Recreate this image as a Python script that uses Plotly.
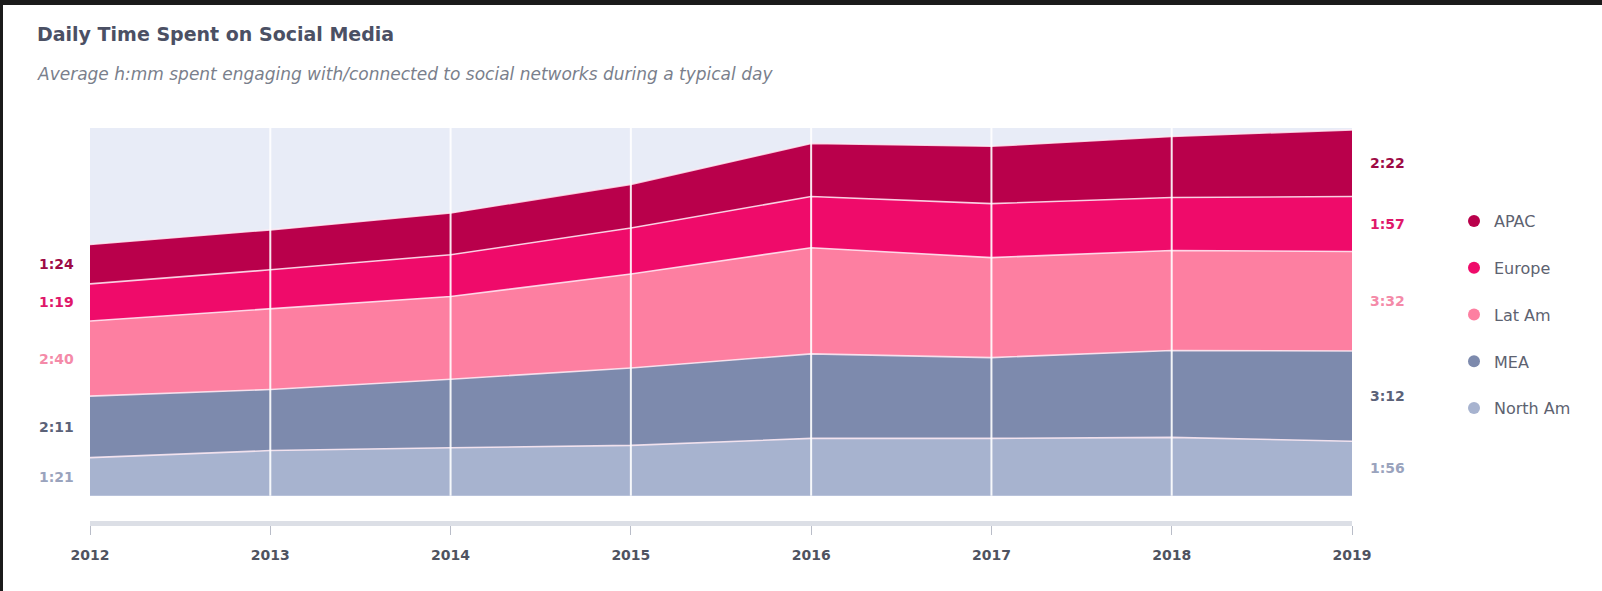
import plotly.graph_objects as go

# Average minutes per day spent on social networks, by region
years = [2012, 2013, 2014, 2015, 2016, 2017, 2018, 2019]
north_am = [81, 96, 102, 107, 122, 122, 124, 116]
mea = [131, 130, 146, 165, 180, 172, 185, 192]
lat_am = [160, 172, 176, 200, 226, 213, 213, 212]
europe = [79, 83, 89, 98, 109, 115, 113, 117]
apac = [84, 85, 89, 93, 113, 122, 130, 142]

# bottom-to-top stacking order
series = [
    ("North Am", north_am, "#a7b3cf", "#9aa3bd"),
    ("MEA", mea, "#7d8aad", "#5b6278"),
    ("Lat Am", lat_am, "#fd7fa1", "#f48aa8"),
    ("Europe", europe, "#ef0b6a", "#e0176a"),
    ("APAC", apac, "#b9004b", "#9e0a45"),
]

FONT = "DejaVu Sans"
W, H = 1602, 591
ML, MR, MT, MB = 90, 250, 128, 70
PW, PH = W - ML - MR, H - MT - MB
Y_MIN, Y_MAX = -54, 783


def hmm(m):
    return f"{m // 60}:{m % 60:02d}"


def px_x(p):
    return (p - ML) / PW


def px_y(p):
    return (H - MB - p) / PH


fig = go.Figure()

for name, vals, fill, _ in series:
    fig.add_trace(go.Scatter(
        x=years, y=vals, name=name, stackgroup="one", mode="lines",
        line=dict(color="rgba(255,235,245,0.85)", width=1.6),
        fillcolor=fill, showlegend=False, hoverinfo="x+y+name",
    ))

# legend entries with round markers
for name, vals, fill, _ in reversed(series):
    fig.add_trace(go.Scatter(
        x=[None], y=[None], mode="markers", name=name, legendgroup=name,
        marker=dict(size=15, color=fill, symbol="circle"),
    ))

annotations = []
# end-point value labels centred on each band
cum_first, cum_last = 0, 0
for name, vals, fill, txt in series:
    annotations.append(dict(
        x=years[0], y=cum_first + vals[0] / 2, text=f"<b>{hmm(vals[0])}</b>",
        xref="x", yref="y", xanchor="right", yanchor="middle", xshift=-14,
        showarrow=False, font=dict(size=14, color=txt, family=FONT),
    ))
    annotations.append(dict(
        x=years[-1], y=cum_last + vals[-1] / 2, text=f"<b>{hmm(vals[-1])}</b>",
        xref="x", yref="y", xanchor="left", yanchor="middle", xshift=16,
        showarrow=False, font=dict(size=14, color=txt, family=FONT),
    ))
    cum_first += vals[0]
    cum_last += vals[-1]

annotations += [
    dict(x=px_x(35), y=px_y(34), xref="paper", yref="paper", xanchor="left",
         yanchor="middle", showarrow=False,
         text="<b>Daily Time Spent on Social Media</b>",
         font=dict(size=19, color="#4b5064", family=FONT)),
    dict(x=px_x(35), y=px_y(74), xref="paper", yref="paper", xanchor="left",
         yanchor="middle", showarrow=False,
         text="<i>Average h:mm spent engaging with/connected to social networks during a typical day</i>",
         font=dict(size=17, color="#7a7f8c", family=FONT)),
]

shapes = [
    # light plot panel behind the stacked areas
    dict(type="rect", xref="x", yref="y", x0=years[0], x1=years[-1],
         y0=0, y1=Y_MAX, fillcolor="#e8ecf7", line=dict(width=0), layer="below"),
    # dark frame along the top and left edges
    dict(type="rect", xref="paper", yref="paper", x0=px_x(0), x1=px_x(W),
         y0=px_y(5), y1=px_y(0), fillcolor="#1b1b1b", line=dict(width=0)),
    dict(type="rect", xref="paper", yref="paper", x0=px_x(0), x1=px_x(3),
         y0=px_y(H), y1=px_y(0), fillcolor="#1b1b1b", line=dict(width=0)),
]
# vertical year guides over the areas
for yr in years[1:-1]:
    shapes.append(dict(type="line", xref="x", yref="y", x0=yr, x1=yr, y0=0, y1=Y_MAX,
                       line=dict(color="rgba(255,255,255,0.9)", width=2), layer="above"))

fig.update_layout(
    width=W, height=H,
    margin=dict(l=ML, r=MR, t=MT, b=MB),
    paper_bgcolor="white", plot_bgcolor="rgba(0,0,0,0)",
    font=dict(family=FONT, color="#555a66"),
    showlegend=True,
    legend=dict(x=px_x(1454), y=px_y(204), xanchor="left", yanchor="top",
                traceorder="grouped", tracegroupgap=23,
                font=dict(size=16, color="#5d6270", family=FONT),
                bgcolor="rgba(0,0,0,0)", itemsizing="constant"),
    xaxis=dict(range=[years[0], years[-1]], tickvals=years, ticktext=[str(y) for y in years],
               showgrid=False, zeroline=False, showline=True, linecolor="#dcdfe6", linewidth=5,
               ticks="outside", ticklen=9, tickwidth=1, tickcolor="#b9bdc8",
               ticklabelstandoff=8,
               tickfont=dict(size=14, color="#4f5360", family=FONT, weight="bold")),
    yaxis=dict(range=[Y_MIN, Y_MAX], visible=False, showgrid=False, zeroline=False),
    annotations=annotations, shapes=shapes,
)

fig.write_html("out.html")
